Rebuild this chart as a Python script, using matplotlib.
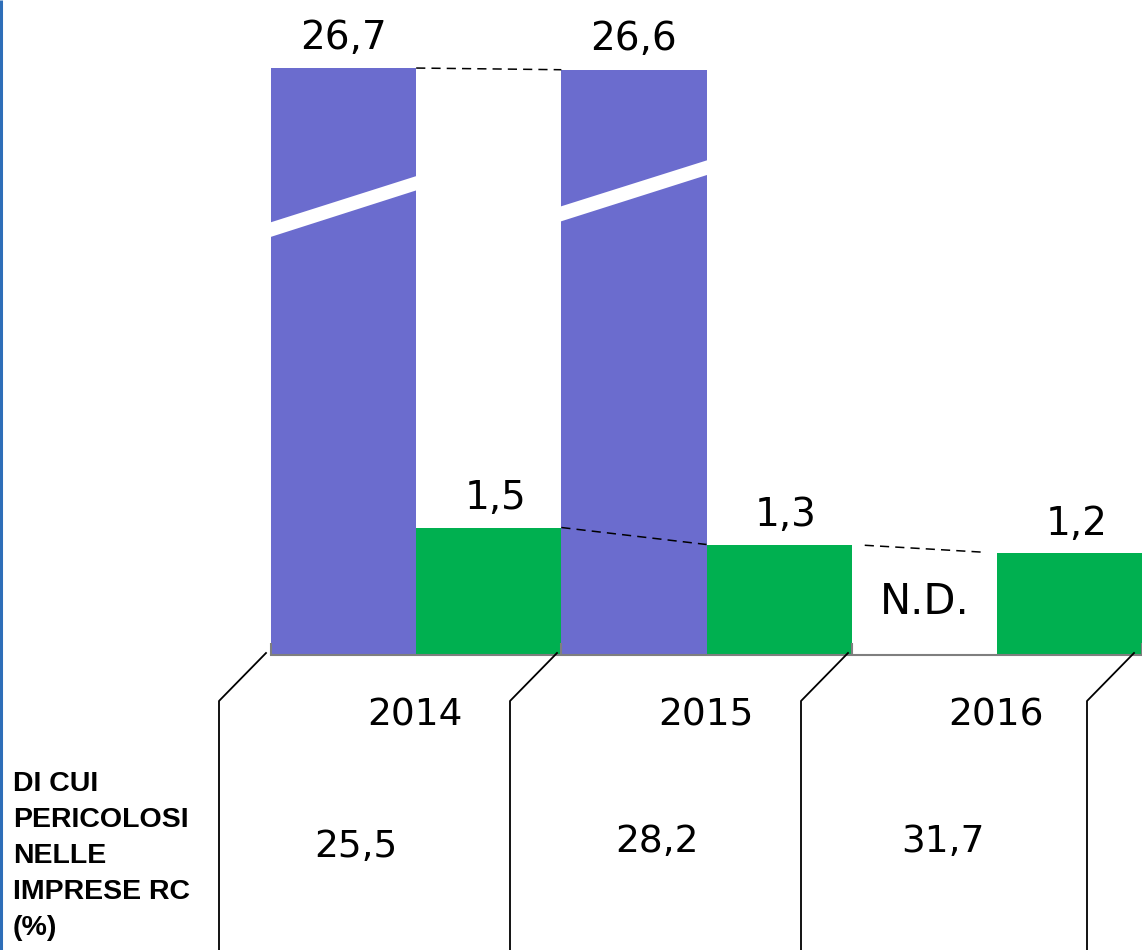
import numpy as np
import matplotlib
matplotlib.use("Agg")
import matplotlib.pyplot as plt
from matplotlib.lines import Line2D
from matplotlib.patches import Polygon

# data
years = ["2014", "2015", "2016"]
totale = [26.7, 26.6, None]          # blue bars (axis broken), 2016 not available
pericolosi = [1.5, 1.3, 1.2]         # green bars
quota_rc = ["25,5", "28,2", "31,7"]  # bottom row (%)
row_label = ["DI CUI", "PERICOLOSI", "NELLE", "IMPRESE RC", "(%)"]

BLUE = "#6B6CCE"
GREEN = "#00B050"
GREY = "#7F7F7F"

plt.rcParams["font.family"] = ["DejaVu Sans"]

W, H = 1142, 950
fig = plt.figure(figsize=(W / 100, H / 100), dpi=100)

# broken y scale: linear up to 2, compressed above
K = 0.1986
def fwd(v):
    v = np.asarray(v, dtype=float)
    return np.where(v <= 2, v, 2 + (v - 2) * K)
def inv(t):
    t = np.asarray(t, dtype=float)
    return np.where(t <= 2, t, 2 + (t - 2) / K)

base_px = 655
ax = fig.add_axes([271 / W, (H - base_px) / H, (W - 271) / W, base_px / H])
ax.set_yscale("function", functions=(fwd, inv))
ax.set_xlim(0, 6)
ax.set_ylim(0, float(inv(base_px / 85.0)))

for s in ["top", "right", "left"]:
    ax.spines[s].set_visible(False)
ax.spines["bottom"].set_color(GREY)
ax.spines["bottom"].set_linewidth(1.5)
ax.set_yticks([])
ax.set_xticks([])
ax.set_xticks([0, 2, 4, 6], minor=True)
ax.tick_params(axis="x", which="minor", direction="in", length=9, width=1.5,
               color=GREY, labelbottom=False)

def fmt(v):
    return f"{v:.1f}".replace(".", ",")

for i, v in enumerate(totale):
    if v is None:
        continue
    x = 2 * i + 0.5
    ax.bar(x, v, width=1.0, color=BLUE, zorder=1)
    ax.annotate(fmt(v), (x, v), xytext=(0, 14), textcoords="offset points",
                ha="center", va="baseline", fontsize=28)

for i, v in enumerate(pericolosi):
    x = 2 * i + 1.5
    ax.bar(x, v, width=1.0, color=GREEN, zorder=1)
    ax.annotate(fmt(v), (x, v), xytext=(5, 13), textcoords="offset points",
                ha="center", va="baseline", fontsize=28)

ax.text(4.5, 0.62, "N.D.", ha="center", va="center", fontsize=30)

# break marks on the blue bars
bt = ax.get_xaxis_transform()
bands = [
    [(-0.01, 0.6377), (1.01, 0.710), (1.01, 0.7318), (-0.01, 0.660)],
    [(1.99, 0.6615), (3.01, 0.7333), (3.01, 0.7557), (1.99, 0.6844)],
]
for b in bands:
    ax.add_patch(Polygon(b, closed=True, facecolor="white", edgecolor="none",
                         transform=bt, zorder=2))

# dashed connectors
dash = dict(color="black", lw=1.1, ls=(0, (6, 4)), zorder=3)
ax.plot([1, 2], [totale[0], totale[1]], **dash)
ax.plot([2, 3], [pericolosi[0], pericolosi[1]], **dash)
t = np.array([0.09, 0.92])
ax.plot(4 + t, pericolosi[1] + (pericolosi[2] - pericolosi[1]) * t, **dash)

# overlay in pixel coords for the table underneath
ov = fig.add_axes([0, 0, 1, 1], zorder=5)
ov.set_xlim(0, W)
ov.set_ylim(H, 0)
ov.axis("off")

ov.plot([1.2, 1.2], [0, H], color="#2E6EB8", lw=2.2, solid_capstyle="butt")

for xt in [266, 557, 848, 1134]:
    ov.plot([xt, xt - 47, xt - 47], [653, 701, H], color="black", lw=1.3)

year_x = [415, 706, 996]
for x, y in zip(year_x, years):
    ov.text(x, 725, y, ha="center", va="baseline", fontsize=27)

val_x = [356, 657, 943]
val_y = [857, 852, 852]
for x, y, s in zip(val_x, val_y, quota_rc):
    ov.text(x, y, s, ha="center", va="baseline", fontsize=27)

for j, line in enumerate(row_label):
    ov.text(13, 791 + 36 * j, line, ha="left", va="baseline", fontsize=20.5,
            fontweight="bold", family="Liberation Sans")

fig.savefig("out.png", dpi=100)
